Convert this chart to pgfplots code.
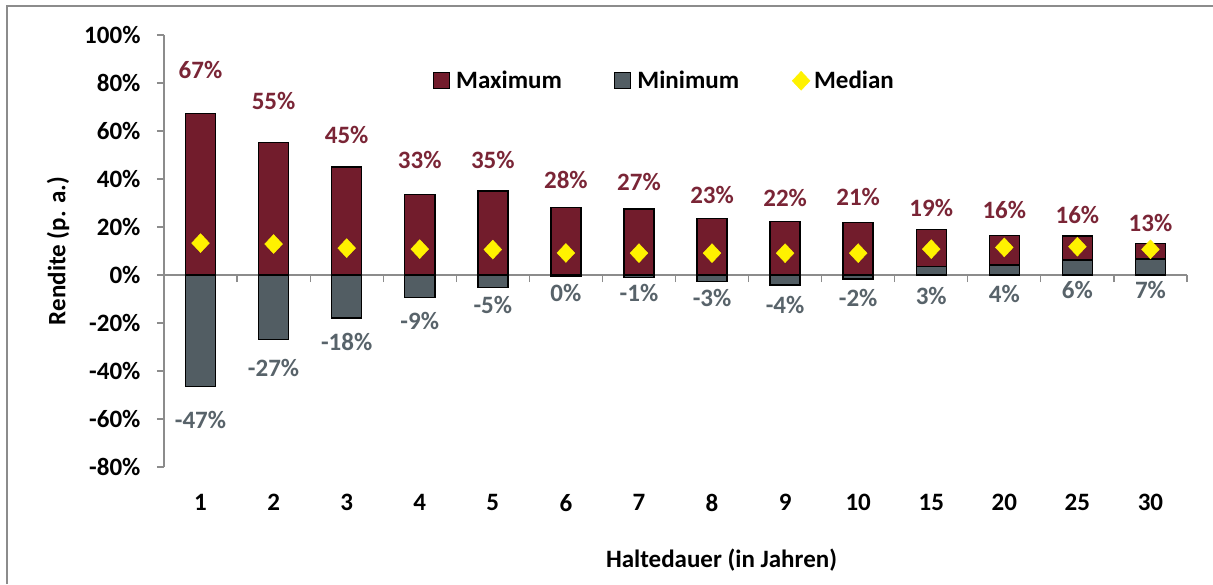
\documentclass[border=0pt]{standalone}
\usepackage{pgfplots}
\pgfplotsset{compat=1.18}
\usepackage{fontspec}
\setmainfont{Carlito}
\definecolor{maxc}{HTML}{721C2C}
\definecolor{minc}{HTML}{525D63}
\definecolor{maxl}{HTML}{7A2536}
\definecolor{minl}{HTML}{58636A}
\definecolor{axc}{HTML}{8C8C8C}
\newcommand{\cfont}{\fontsize{25}{29}\selectfont\bfseries}
\begin{document}
\begin{tikzpicture}
\path[use as bounding box] (-164pt,-117pt) rectangle (1049pt,467pt);
\draw[axc, line width=1.5pt] (-157pt,-117pt) -- (-157pt,461pt) -- (1049pt,461pt);
\begin{axis}[
  scale only axis, width=1023pt, height=432pt,
  xmin=0.5, xmax=14.5, ymin=-80, ymax=100,
  axis x line*=middle, axis y line*=left,
  hide obscured x ticks=false, hide obscured y ticks=false,
  axis line style={axc, line width=1.2pt},
  /pgf/number format/assume math mode=true,
  ytick={-80,-60,...,100},
  yticklabel={\pgfmathprintnumber{\tick}\%},
  xtick={1,...,14},
  xticklabels={1,2,3,4,5,6,7,8,9,10,15,20,25,30},
  minor xtick={0.5,1.5,...,14.5},
  major x tick style={draw=none},
  minor x tick style={axc, line width=1.2pt},
  y tick style={axc, line width=1.2pt},
  major tick length=7pt, minor tick length=7pt,
  xtick align=outside, ytick align=outside,
  tick label style={font=\cfont, text=black},
  yticklabel style={xshift=-13pt},
  xticklabel style={yshift=-209pt},
  xlabel={Haltedauer (in Jahren)},
  ylabel={Rendite (p. a.)},
  every axis x label/.style={at={(axis description cs:0.545,-0.215)}, anchor=center, font=\cfont},
  every axis y label/.style={at={(axis description cs:-0.1036,0.5)}, rotate=90, anchor=center, font=\cfont},
  legend style={at={(axis description cs:0.489,0.894)}, anchor=center, draw=none, fill=none,
    font=\cfont, legend columns=3,
    /tikz/every even column/.append style={column sep=50pt}},
  legend cell align=left,
]
\addplot[ybar, bar width=30pt, bar shift=0pt, fill=maxc, draw=black, line width=1.5pt,
  legend image code/.code={\draw[fill=maxc, draw=black, line width=1.2pt] (0pt,-8pt) rectangle (16pt,8pt); \path[draw=none, fill=none] (0pt,0pt) -- (21pt,0pt);}]
  coordinates {(1,67.2) (2,55.2) (3,45) (4,33.5) (5,35) (6,28.2) (7,27.5) (8,23.5) (9,22.2) (10,21.8) (11,19) (12,16.5) (13,16.2) (14,13.2)};
\addlegendentry{Maximum}
\addplot[ybar, bar width=30pt, bar shift=0pt, fill=minc, draw=black, line width=1.5pt,
  legend image code/.code={\draw[fill=minc, draw=black, line width=1.2pt] (0pt,-8pt) rectangle (16pt,8pt); \path[draw=none, fill=none] (0pt,0pt) -- (21pt,0pt);}]
  coordinates {(1,-46.5) (2,-26.9) (3,-18) (4,-9.4) (5,-5.3) (6,-0.4) (7,-1.1) (8,-2.8) (9,-4.2) (10,-1.7) (11,3.5) (12,4.2) (13,6.2) (14,6.6)};
\addlegendentry{Minimum}
\addplot[only marks, mark=diamond*, mark size=9.5pt, mark options={fill=yellow, draw=yellow, xscale=1.25},
  legend image code/.code={\draw[draw=none, mark=diamond*, mark size=9.5pt, mark options={fill=yellow, draw=yellow, xscale=1.25}] plot coordinates {(10pt,0pt)}; \path[draw=none, fill=none] (0pt,0pt) -- (21pt,0pt);}]
  coordinates {(1,13.3) (2,12.9) (3,11.2) (4,10.8) (5,10.6) (6,9.2) (7,9.1) (8,9.1) (9,9.1) (10,9.1) (11,10.8) (12,11.5) (13,11.8) (14,10.7)};
\addlegendentry{Median}
\addplot[draw=none, mark=none, forget plot, point meta=explicit,
  nodes near coords={\pgfmathprintnumber{\pgfplotspointmeta}\%},
  nodes near coords style={anchor=center, font=\cfont, text=maxl}]
  table[x=x, y=y, meta=m] {
x y m
1 85.6 67
2 72.6 55
3 58.5 45
4 47.9 33
5 47.9 35
6 39.6 28
7 38.8 27
8 33.5 23
9 32.1 22
10 32.5 21
11 27.9 19
12 26.9 16
13 24.8 16
14 21.7 13
};
\addplot[draw=none, mark=none, forget plot, point meta=explicit,
  nodes near coords={\pgfmathprintnumber{\pgfplotspointmeta}\%},
  nodes near coords style={anchor=center, font=\cfont, text=minl}]
  table[x=x, y=y, meta=m] {
x y m
1 -60.4 -47
2 -38.9 -27
3 -28.1 -18
4 -19.1 -9
5 -12.5 -5
6 -7.3 0
7 -7.3 -1
8 -9.6 -3
9 -12.5 -4
10 -9.6 -2
11 -8.7 3
12 -7.8 4
13 -6.25 6
14 -6.4 7
};
\end{axis}
\end{tikzpicture}
\end{document}
